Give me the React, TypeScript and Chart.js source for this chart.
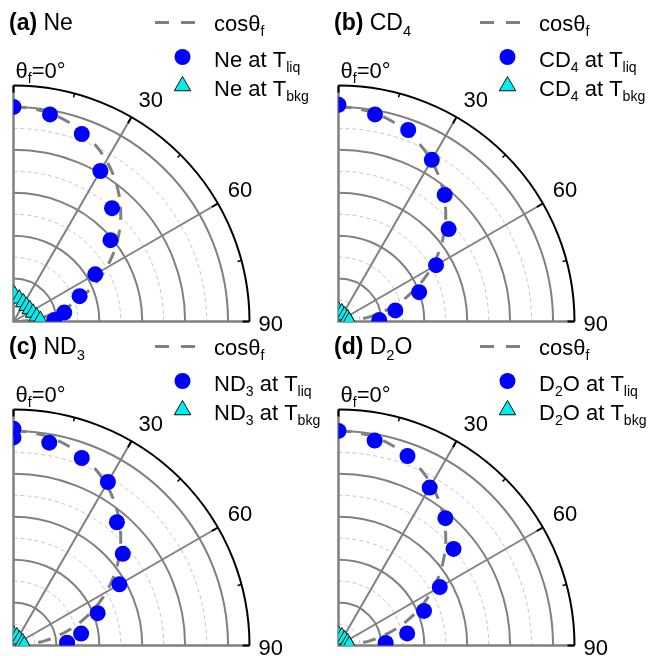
import React, { useEffect, useRef } from 'react';
import { Chart, registerables } from 'chart.js';

Chart.register(...registerables);

// ---------------- data (angles in degrees from the θf = 0° axis, radial values normalised) ----------------
const panelLetters = ['(a)', '(b)', '(c)', '(d)'];
const speciesNames = ['Ne', 'CD_{4}', 'ND_{3}', 'D_{2}O'];

const neLiqAngle = [0, 10, 20, 30, 41, 50, 60, 69, 80, 88];
const neLiqValue = [1.0, 0.98, 0.93, 0.81, 0.7, 0.59, 0.44, 0.33, 0.24, 0.19];
const neBkgAngle = [2, 14, 27, 40, 53, 66, 78, 87];
const neBkgValue = [0.125, 0.11, 0.1, 0.095, 0.095, 0.1, 0.11, 0.125];

const cd4LiqAngle = [0, 10, 20, 30, 40, 50, 60, 70, 79, 88];
const cd4LiqValue = [1.01, 0.98, 0.95, 0.87, 0.77, 0.67, 0.525, 0.4, 0.27, 0.19];
const cd4BkgAngle = [0, 20, 45, 70, 88];
const cd4BkgValue = [0.05, 0.045, 0.04, 0.045, 0.05];

const nd3LiqAngle = [0, 0, 10, 20, 30, 40, 50, 60, 69, 80, 87];
const nd3LiqValue = [1.01, 0.97, 0.96, 0.93, 0.88, 0.75, 0.665, 0.57, 0.42, 0.32, 0.25];
const nd3BkgAngle = [0, 20, 45, 70, 88];
const nd3BkgValue = [0.05, 0.045, 0.04, 0.045, 0.05];

const d2oLiqAngle = [0, 10, 20, 30, 40, 50, 60, 68, 80, 87];
const d2oLiqValue = [1.0, 0.97, 0.94, 0.85, 0.775, 0.7, 0.545, 0.43, 0.325, 0.22];
const d2oBkgAngle = [0, 20, 45, 70, 88];
const d2oBkgValue = [0.05, 0.045, 0.04, 0.045, 0.05];

// polar axis description
const angleTickLabels = ['30', '60', '90'];
const majorAngles = [0, 30, 60, 90];
const minorAngles = [15, 45, 75];
const solidRings = [0.2, 0.4, 0.6, 0.8, 1.0];
const dashedRings = [0.1, 0.3, 0.5, 0.7, 0.9];
const radialMax = 1.1;
// sampling angles for the cosθf model curve
const modelAngles = Array.from({ length: 46 }, (_, i) => i * 2);

// ---------------- styles ----------------
const FONT = '"Liberation Sans", Arial, Helvetica, sans-serif';
const BLUE = '#0000ff';
const CYAN = '#00eeee';
const GRAY = '#808080';
const LIGHT = '#c4c4c4';

const toRad = (d: number) => (d * Math.PI) / 180;
const toXY = (angles: number[], values: number[]) =>
  angles.map((a, i) => ({ x: values[i] * Math.sin(toRad(a)), y: values[i] * Math.cos(toRad(a)) }));

function drawRich(ctx: CanvasRenderingContext2D, text: string, x: number, y: number, size: number, bold = false) {
  const segs: { t: string; sub: boolean }[] = [];
  const re = /_\{([^}]*)\}/g;
  let last = 0;
  let m: RegExpExecArray | null;
  while ((m = re.exec(text))) {
    if (m.index > last) segs.push({ t: text.slice(last, m.index), sub: false });
    segs.push({ t: m[1], sub: true });
    last = re.lastIndex;
  }
  if (last < text.length) segs.push({ t: text.slice(last), sub: false });
  let cx = x;
  ctx.textAlign = 'left';
  ctx.textBaseline = 'alphabetic';
  for (const s of segs) {
    const fs = s.sub ? size * 0.64 : size;
    ctx.font = `${bold ? 'bold ' : ''}${fs}px ${FONT}`;
    ctx.fillText(s.t, cx, s.sub ? y + size * 0.24 : y);
    cx += ctx.measureText(s.t).width;
  }
  return cx - x;
}

const polarDeco = {
  id: 'polarDeco',
  beforeDatasetsDraw(chart: any) {
    const { ctx, scales } = chart;
    const sx = scales.x;
    const sy = scales.y;
    const cx = sx.getPixelForValue(0);
    const cy = sy.getPixelForValue(0);
    const rp = (v: number) => sx.getPixelForValue(v) - cx;
    const R = rp(radialMax);
    ctx.save();
    ctx.strokeStyle = LIGHT;
    ctx.lineWidth = 1;
    ctx.setLineDash([4, 3]);
    for (const v of dashedRings) {
      ctx.beginPath();
      ctx.arc(cx, cy, rp(v), -Math.PI / 2, 0);
      ctx.stroke();
    }
    ctx.setLineDash([]);
    ctx.strokeStyle = GRAY;
    ctx.lineWidth = 2;
    for (const v of solidRings) {
      ctx.beginPath();
      ctx.arc(cx, cy, rp(v), -Math.PI / 2, 0);
      ctx.stroke();
    }
    for (const a of [30, 60]) {
      ctx.beginPath();
      ctx.moveTo(cx, cy);
      ctx.lineTo(cx + R * Math.sin(toRad(a)), cy - R * Math.cos(toRad(a)));
      ctx.stroke();
    }
    ctx.lineWidth = 2.5;
    ctx.beginPath();
    ctx.moveTo(cx, cy - R);
    ctx.lineTo(cx, cy);
    ctx.lineTo(cx + R, cy);
    ctx.stroke();
    ctx.restore();
  },
  afterDatasetsDraw(chart: any, _args: any, opts: any) {
    const { ctx, scales } = chart;
    const sx = scales.x;
    const sy = scales.y;
    const cx = sx.getPixelForValue(0);
    const cy = sy.getPixelForValue(0);
    const R = sx.getPixelForValue(radialMax) - cx;
    const P = (a: number, r: number) => [cx + r * Math.sin(toRad(a)), cy - r * Math.cos(toRad(a))];
    ctx.save();
    // outer arc
    ctx.strokeStyle = '#000';
    ctx.lineWidth = 2;
    ctx.beginPath();
    ctx.arc(cx, cy, R, -Math.PI / 2, 0);
    ctx.stroke();
    // ticks
    for (const a of majorAngles) {
      const [x1, y1] = P(a, R - 7);
      const [x2, y2] = P(a, R);
      ctx.beginPath();
      ctx.moveTo(x1, y1);
      ctx.lineTo(x2, y2);
      ctx.stroke();
    }
    ctx.lineWidth = 1.5;
    for (const a of minorAngles) {
      const [x1, y1] = P(a, R - 4);
      const [x2, y2] = P(a, R);
      ctx.beginPath();
      ctx.moveTo(x1, y1);
      ctx.lineTo(x2, y2);
      ctx.stroke();
    }
    // angle labels
    ctx.fillStyle = '#000';
    ctx.font = `22px ${FONT}`;
    ctx.textAlign = 'left';
    ctx.textBaseline = 'alphabetic';
    angleTickLabels.forEach((lab) => {
      const a = Number(lab);
      const [ax, ay] = P(a, R + 8);
      if (a >= 90) ctx.fillText(lab, ax + 1, ay + 9);
      else ctx.fillText(lab, ax + 3, ay - 3);
    });
    // θf = 0° label
    drawRich(ctx, 'θ_{f}=0°', cx + 2, cy - R - 8, 22);
    // title
    const w = drawRich(ctx, opts.letter, 9, 30, 23, true);
    drawRich(ctx, ' ' + opts.species, 9 + w, 30, 23);
    // legend
    ctx.strokeStyle = GRAY;
    ctx.lineWidth = 3;
    ctx.setLineDash([14, 12]);
    ctx.beginPath();
    ctx.moveTo(155, 22.5);
    ctx.lineTo(197, 22.5);
    ctx.stroke();
    ctx.setLineDash([]);
    ctx.fillStyle = BLUE;
    ctx.beginPath();
    ctx.arc(182.5, 57, 8, 0, Math.PI * 2);
    ctx.fill();
    ctx.fillStyle = CYAN;
    ctx.strokeStyle = '#111';
    ctx.lineWidth = 1;
    const tr = 9.5;
    ctx.beginPath();
    ctx.moveTo(182.5, 86 - tr);
    ctx.lineTo(182.5 + tr * 0.866, 86 + tr * 0.5);
    ctx.lineTo(182.5 - tr * 0.866, 86 + tr * 0.5);
    ctx.closePath();
    ctx.fill();
    ctx.stroke();
    ctx.fillStyle = '#000';
    drawRich(ctx, 'cosθ_{f}', 214, 31, 22);
    drawRich(ctx, `${opts.species} at T_{liq}`, 214, 67, 22);
    drawRich(ctx, `${opts.species} at T_{bkg}`, 214, 96, 22);
    ctx.restore();
  },
};

type PanelProps = {
  idx: number;
  liqA: number[];
  liqV: number[];
  bkgA: number[];
  bkgV: number[];
  left: number;
  top: number;
  height: number;
};

function Panel({ idx, liqA, liqV, bkgA, bkgV, left, top, height }: PanelProps) {
  const ref = useRef<HTMLCanvasElement | null>(null);
  useEffect(() => {
    if (!ref.current) return;
    const size = 236;
    const originX = 13.5;
    const originY = 321.5;
    const chart = new Chart(ref.current, {
      type: 'scatter',
      data: {
        datasets: [
          {
            label: 'bkg',
            data: toXY(bkgA, bkgV),
            pointStyle: 'triangle',
            pointRadius: 9,
            backgroundColor: CYAN,
            borderColor: '#111',
            borderWidth: 1,
            clip: 0,
            order: 0,
          },
          {
            label: 'liq',
            data: toXY(liqA, liqV),
            pointRadius: 8,
            backgroundColor: BLUE,
            borderColor: BLUE,
            borderWidth: 0,
            clip: 0,
            order: 1,
          },
          {
            type: 'line',
            label: 'cos',
            data: toXY(modelAngles, modelAngles.map((a) => Math.cos(toRad(a)))),
            borderColor: GRAY,
            borderWidth: 3,
            borderDash: [13, 10],
            pointRadius: 0,
            fill: false,
            tension: 0,
            clip: 0,
            order: 2,
          } as any,
        ],
      },
      options: {
        responsive: false,
        animation: false,
        events: [],
        layout: {
          padding: {
            left: originX,
            top: originY - size,
            right: 325 - originX - size,
            bottom: height - originY,
          },
        },
        scales: {
          x: { type: 'linear', min: 0, max: radialMax, display: false },
          y: { type: 'linear', min: 0, max: radialMax, display: false },
        },
        plugins: {
          legend: { display: false },
          tooltip: { enabled: false },
          polarDeco: { letter: panelLetters[idx], species: speciesNames[idx] },
        } as any,
      },
      plugins: [polarDeco],
    });
    return () => chart.destroy();
  }, []);
  return (
    <canvas
      ref={ref}
      width={325}
      height={height}
      style={{ position: 'absolute', left, top, width: 325, height }}
    />
  );
}

export default function App() {
  return (
    <div
      style={{
        position: 'fixed',
        left: 0,
        top: 0,
        width: 649,
        height: 656,
        background: '#fff',
        overflow: 'hidden',
      }}
    >
      <Panel idx={0} liqA={neLiqAngle} liqV={neLiqValue} bkgA={neBkgAngle} bkgV={neBkgValue} left={0} top={0} height={340} />
      <Panel idx={1} liqA={cd4LiqAngle} liqV={cd4LiqValue} bkgA={cd4BkgAngle} bkgV={cd4BkgValue} left={325} top={0} height={340} />
      <Panel idx={2} liqA={nd3LiqAngle} liqV={nd3LiqValue} bkgA={nd3BkgAngle} bkgV={nd3BkgValue} left={0} top={324} height={332} />
      <Panel idx={3} liqA={d2oLiqAngle} liqV={d2oLiqValue} bkgA={d2oBkgAngle} bkgV={d2oBkgValue} left={325} top={324} height={332} />
    </div>
  );
}
